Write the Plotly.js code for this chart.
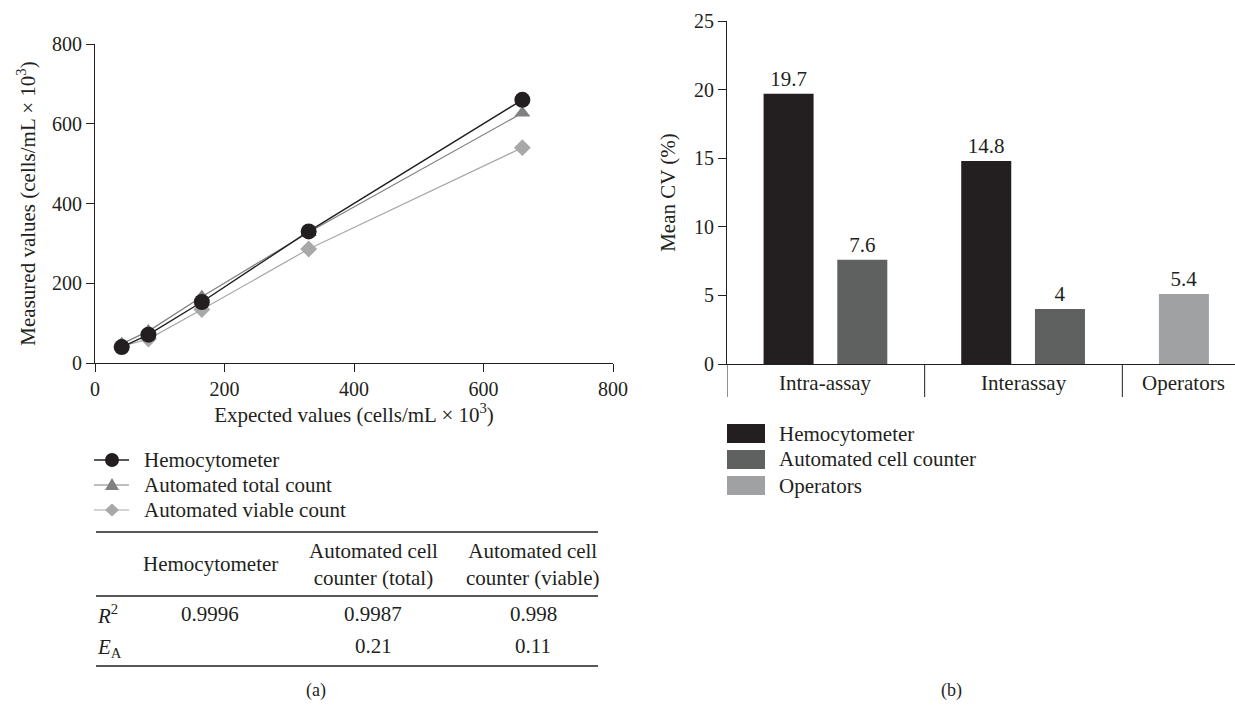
<!DOCTYPE html>
<html><head><meta charset="utf-8">
<script src="https://cdn.plot.ly/plotly-3.0.1.min.js"></script>
<style>html,body{margin:0;padding:0;background:#fff}#chart{width:1235px;height:707px}</style>
</head><body><div id="chart"></div>
<script>
// ---------- Panel (a) data ----------
const expected = [41.25, 82.5, 165, 330, 660];
const hemocytometer = [40, 71, 153, 330, 660];
const autoTotal = [48, 80, 166, 328, 627];
const autoViable = [42, 60, 134, 286, 540];
const lineNames = ['Hemocytometer', 'Automated total count', 'Automated viable count'];
const xTicksA = [0, 200, 400, 600, 800];
const yTicksA = [0, 200, 400, 600, 800];

// ---------- Table data ----------
const tableHeaders = ['Hemocytometer', 'Automated cell<br>counter (total)', 'Automated cell<br>counter (viable)'];
const rSquared = ['0.9996', '0.9987', '0.998'];
const eA = ['', '0.21', '0.11'];

// ---------- Panel (b) data ----------
const categories = ['Intra-assay', 'Interassay', 'Operators'];
const cvHemo = [19.7, 14.8, null];
const cvAuto = [7.6, 4, null];
const cvOperators = [null, null, 5.1];
const cvHemoLabels = ['19.7', '14.8', ''];
const cvAutoLabels = ['7.6', '4', ''];
const cvOperatorsLabels = ['', '', '5.4'];
const barNames = ['Hemocytometer', 'Automated cell counter', 'Operators'];
const cvTicks = [0, 5, 10, 15, 20, 25];

// ---------- helpers ----------
const W = 1235, H = 707;
const px = v => v / W;
const py = v => 1 - v / H;
const FONT = '"Liberation Serif", "Times New Roman", serif';
const INK = '#231f20';
const FS = 21;
const TFS = 20;
const barColors = ['#231f20', '#5f6160', '#a0a1a3'];
const lineColors = [INK, '#808080', '#a8a8a8'];

const barW = 0.253, offH = -0.315, offA = 0.058;

function barTrace(vals, labels, name, color, offset) {
  const idx = vals.map((v, i) => i).filter(i => vals[i] !== null);
  return {x: idx.map(i => categories[i]), y: idx.map(i => vals[i]), text: idx.map(i => labels[i]),
    name: name, type: 'bar', xaxis: 'x2', yaxis: 'y2', width: barW, offset: offset,
    marker: {color: color}, textposition: 'outside', constraintext: 'none', cliponaxis: false,
    outsidetextfont: {family: FONT, size: FS, color: INK}, showlegend: false};
}

const traces = [
  {x: expected, y: autoViable, name: lineNames[2], type: 'scatter', mode: 'lines+markers',
   line: {color: lineColors[2], width: 1.2}, marker: {symbol: 'diamond', size: 13, color: lineColors[2]},
   xaxis: 'x', yaxis: 'y', showlegend: false},
  {x: expected, y: autoTotal, name: lineNames[1], type: 'scatter', mode: 'lines+markers',
   line: {color: lineColors[1], width: 1.2}, marker: {symbol: 'triangle-up', size: 14, color: lineColors[1]},
   xaxis: 'x', yaxis: 'y', showlegend: false},
  {x: expected, y: hemocytometer, name: lineNames[0], type: 'scatter', mode: 'lines+markers',
   line: {color: lineColors[0], width: 1.4}, marker: {symbol: 'circle', size: 16, color: lineColors[0]},
   xaxis: 'x', yaxis: 'y', showlegend: false},
  barTrace(cvHemo, cvHemoLabels, barNames[0], barColors[0], offH),
  barTrace(cvAuto, cvAutoLabels, barNames[1], barColors[1], offA),
  barTrace(cvOperators, cvOperatorsLabels, barNames[2], barColors[2], offH)
];

const shapes = [];
const annotations = [];
const txt = (x, y, t, anchor, size) => ({xref: 'paper', yref: 'paper', x: px(x), y: py(y), text: t,
  showarrow: false, xanchor: anchor || 'center', yanchor: 'middle', font: {family: FONT, size: size || FS, color: INK}});

// ---------- panel (a) legend (drawn) ----------
const legRows = [460, 485, 510];
const lx0 = 94, lx1 = 129, lmx = 112;
lineNames.forEach((n, i) => {
  const yy = legRows[i];
  shapes.push({type: 'line', xref: 'paper', yref: 'paper', x0: px(lx0), x1: px(lx1), y0: py(yy), y1: py(yy),
    line: {color: lineColors[i], width: i === 0 ? 1.4 : 1.2}});
  if (i === 0) {
    shapes.push({type: 'circle', xref: 'paper', yref: 'paper', x0: px(lmx - 7), x1: px(lmx + 7),
      y0: py(yy - 7), y1: py(yy + 7), fillcolor: lineColors[0], line: {width: 0}});
  } else if (i === 1) {
    shapes.push({type: 'path', xref: 'paper', yref: 'paper',
      path: `M${px(lmx - 7)},${py(yy + 5)} L${px(lmx + 7)},${py(yy + 5)} L${px(lmx)},${py(yy - 7)} Z`,
      fillcolor: lineColors[1], line: {width: 0}});
  } else {
    shapes.push({type: 'path', xref: 'paper', yref: 'paper',
      path: `M${px(lmx - 7)},${py(yy)} L${px(lmx)},${py(yy - 6.5)} L${px(lmx + 7)},${py(yy)} L${px(lmx)},${py(yy + 6.5)} Z`,
      fillcolor: lineColors[2], line: {width: 0}});
  }
  annotations.push(txt(142, yy, n, 'left'));
});

// ---------- table ----------
[532, 596, 666].forEach(yy => shapes.push({type: 'line', xref: 'paper', yref: 'paper',
  x0: px(96), x1: px(598), y0: py(yy), y1: py(yy), line: {color: INK, width: 1.3}}));
const colX = [210, 373, 533];
tableHeaders.forEach((t, i) => annotations.push(txt(colX[i], 564, t)));
rSquared.forEach((t, i) => annotations.push(txt(colX[i], 614, t)));
eA.forEach((t, i) => { if (t) annotations.push(txt(colX[i], 646, t)); });
annotations.push(txt(95, 614, '<i>R</i><sup>2</sup>', 'left'));
annotations.push(txt(95, 648, '<i>E</i><sub>A</sub>', 'left'));

// panel labels
annotations.push(txt(316, 690, '(a)', 'center', 18));
annotations.push(txt(951, 690, '(b)', 'center', 18));

// ---------- panel (b) separators, category labels, legend ----------
[-0.5, 0.5, 1.5].forEach(v => shapes.push({type: 'line', xref: 'x2', yref: 'paper', x0: v, x1: v,
  y0: py(364), y1: py(397), line: {color: INK, width: 1}}));
categories.forEach((c, i) => annotations.push({xref: 'x2', yref: 'paper',
  x: i === 2 ? i + offH + barW / 2 : i, y: py(383), text: c, showarrow: false,
  xanchor: 'center', yanchor: 'middle', font: {family: FONT, size: FS, color: INK}}));

const legTop = [424, 450, 476];
barNames.forEach((n, i) => {
  shapes.push({type: 'rect', xref: 'paper', yref: 'paper', x0: px(727), x1: px(765),
    y0: py(legTop[i]), y1: py(legTop[i] + 19), fillcolor: barColors[i], line: {width: 0}});
  annotations.push(txt(777, legTop[i] + 9.5, n, 'left'));
});

const axisCommon = {showline: true, linecolor: INK, linewidth: 1, ticks: 'outside', ticklen: 8,
  tickcolor: INK, tickwidth: 1, showgrid: false, zeroline: false, automargin: false,
  tickfont: {family: FONT, size: TFS, color: INK}};

const layout = {
  width: W, height: H, margin: {l: 0, r: 0, t: 0, b: 0},
  paper_bgcolor: '#fff', plot_bgcolor: '#fff',
  font: {family: FONT, size: FS, color: INK},
  barmode: 'overlay', showlegend: false,
  xaxis: Object.assign({}, axisCommon, {domain: [px(95), px(613)], range: [0, 800], tickvals: xTicksA,
    anchor: 'y', title: {text: 'Expected values (cells/mL × 10<sup>3</sup>)', font: {family: FONT, size: FS, color: INK}, standoff: 8}}),
  yaxis: Object.assign({}, axisCommon, {domain: [py(363), py(44)], range: [0, 800], tickvals: yTicksA,
    anchor: 'x', title: {text: 'Measured values (cells/mL × 10<sup>3</sup>)', font: {family: FONT, size: FS, color: INK}, standoff: 10}}),
  xaxis2: Object.assign({}, axisCommon, {domain: [px(727), 1], type: 'category', range: [-0.5, 2.07],
    ticks: '', showticklabels: false, anchor: 'y2'}),
  yaxis2: Object.assign({}, axisCommon, {domain: [py(364), py(21)], range: [0, 25], tickvals: cvTicks,
    anchor: 'x2', title: {text: 'Mean CV (%)', font: {family: FONT, size: FS, color: INK}, standoff: 12}}),
  shapes: shapes,
  annotations: annotations
};

Plotly.newPlot('chart', traces, layout, {displayModeBar: false, staticPlot: true});
</script>
</body></html>
